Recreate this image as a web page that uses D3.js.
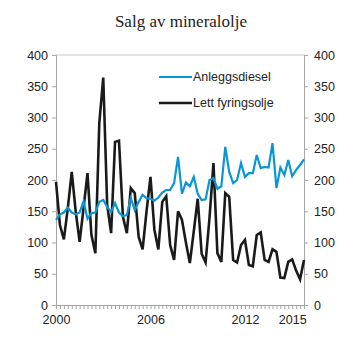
<!DOCTYPE html>
<html>
<head>
<meta charset="utf-8">
<script src="https://cdn.jsdelivr.net/npm/d3@7"></script>
<style>
  body { margin: 0; background: #fff; }
  svg text { font-family: "Liberation Sans", Arial, sans-serif; }
</style>
</head>
<body>
<div id="chart"></div>
<script>
// quarterly values, 2000 Q1 .. 2015 Q4
var anleggsdiesel = [136, 145, 148, 156, 148, 145, 148, 166, 138, 147, 148, 165, 168, 157, 149, 163,
    148, 142, 144, 171, 152, 165, 176, 171, 170, 167, 172, 180, 184, 184, 195, 237,
    178, 196, 190, 205, 178, 168, 169, 200, 203, 186, 190, 253, 213, 195, 200, 227,
    205, 211, 211, 240, 219, 221, 220, 259, 187, 220, 208, 232, 206, 216, 224, 233];
var lettFyringsolje = [197, 128, 105, 155, 213, 150, 101, 155, 211, 112, 83, 291, 364, 160, 115, 261,
    263, 141, 115, 187, 179, 109, 89, 150, 205, 120, 89, 165, 174, 96, 72, 150,
    136, 100, 67, 118, 170, 82, 68, 140, 227, 83, 69, 179, 173, 72, 68, 96,
    104, 64, 62, 112, 116, 72, 69, 89, 85, 44, 43, 69, 73, 55, 41, 72];
var yearLabels = [2000, 2006, 2012, 2015];
var yTicks = [0, 50, 100, 150, 200, 250, 300, 350, 400];
var seriesNames = ["Anleggsdiesel", "Lett fyringsolje"];
var seriesColors = ["#0a96d4", "#1a1a1a"];

var W = 353, H = 353;
var margin = {top: 55, right: 49, bottom: 48, left: 56};
var width = W - margin.left - margin.right;
var height = H - margin.top - margin.bottom;

var svg = d3.select("#chart").append("svg")
    .attr("width", W)
    .attr("height", H);

svg.append("text")
    .attr("x", 181)
    .attr("y", 27)
    .attr("text-anchor", "middle")
    .style("font-family", "'Liberation Serif', 'Times New Roman', serif")
    .style("font-size", "17px")
    .attr("fill", "#222")
    .text("Salg av mineralolje");

var g = svg.append("g")
    .attr("transform", "translate(" + margin.left + "," + margin.top + ")");

var n = anleggsdiesel.length;
var x = d3.scaleLinear().domain([0, n - 1]).range([0, width]);
var y = d3.scaleLinear().domain([0, 400]).range([height, 0]);

// top frame line
g.append("line")
    .attr("x1", 0).attr("x2", width)
    .attr("y1", 0).attr("y2", 0)
    .attr("stroke", "#c8c8c8");

var yLeft = d3.axisLeft(y).tickValues(yTicks).tickSize(4).tickPadding(4);
var yRight = d3.axisRight(y).tickValues(yTicks).tickSize(4).tickPadding(6);

g.append("g").attr("class", "axis").call(yLeft);
g.append("g").attr("class", "axis")
    .attr("transform", "translate(" + width + ",0)")
    .call(yRight);

// bottom axis: minor tick every quarter, labels at chosen years
var quarterIdx = d3.range(n);
var xAxis = d3.axisBottom(x)
    .tickValues(quarterIdx)
    .tickSize(4)
    .tickPadding(6)
    .tickFormat(function(i) {
        var yr = 2000 + Math.floor(i / 4);
        return (i % 4 === 0 && yearLabels.indexOf(yr) >= 0) ? yr : "";
    });
g.append("g").attr("class", "axis")
    .attr("transform", "translate(0," + height + ")")
    .call(xAxis);

g.selectAll(".axis path").attr("stroke", "#a6a6a6");
g.selectAll(".axis line").attr("stroke", "#a6a6a6");
g.selectAll(".axis text")
    .attr("fill", "#222")
    .style("font-size", "12.5px");

var line = d3.line()
    .x(function(d, i) { return x(i); })
    .y(function(d) { return y(d); });

g.append("path")
    .datum(lettFyringsolje)
    .attr("fill", "none")
    .attr("stroke", seriesColors[1])
    .attr("stroke-width", 2.6)
    .attr("stroke-linejoin", "miter")
    .attr("d", line);

g.append("path")
    .datum(anleggsdiesel)
    .attr("fill", "none")
    .attr("stroke", seriesColors[0])
    .attr("stroke-width", 2.2)
    .attr("d", line);

// legend
var legend = svg.append("g").attr("transform", "translate(159,77)");
seriesNames.forEach(function(name, k) {
    var row = legend.append("g").attr("transform", "translate(0," + (k * 26) + ")");
    row.append("line")
        .attr("x1", 0).attr("x2", 33)
        .attr("stroke", seriesColors[k])
        .attr("stroke-width", k === 0 ? 2.2 : 2.6);
    row.append("text")
        .attr("x", 34)
        .attr("dy", "0.35em")
        .attr("fill", "#222")
        .style("font-size", "12.5px")
        .text(name);
});
</script>
</body>
</html>
